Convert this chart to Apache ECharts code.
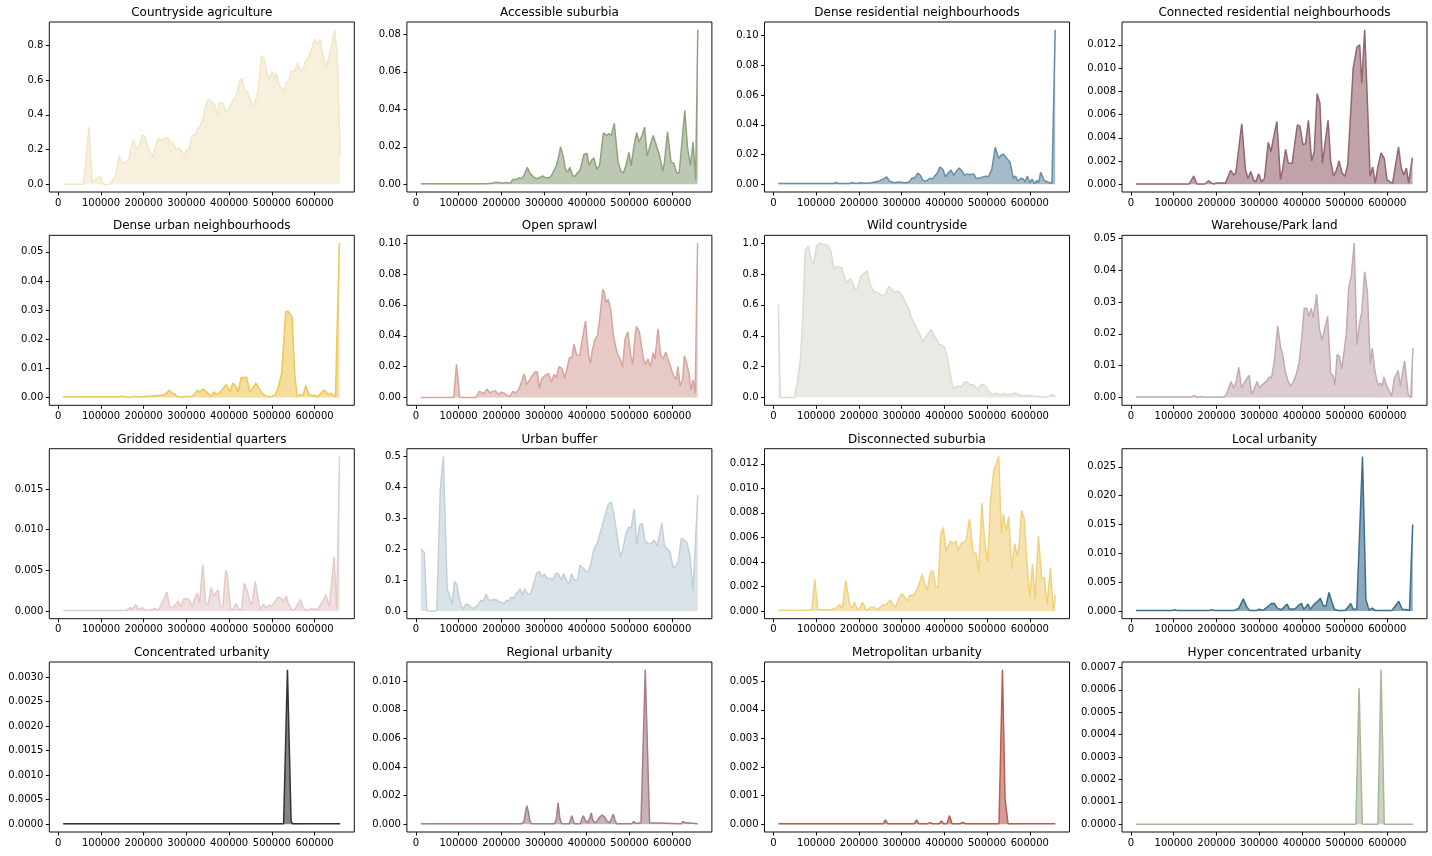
<!DOCTYPE html>
<html><head><meta charset="utf-8">
<script src="https://cdn.jsdelivr.net/npm/echarts@6/dist/echarts.min.js"></script>
<style>html,body{margin:0;padding:0;background:#fff}#c{width:1432px;height:856px}</style>
</head><body><div id="c"></div>
<script>
const titles = ["Countryside agriculture","Accessible suburbia","Dense residential neighbourhoods","Connected residential neighbourhoods",
"Dense urban neighbourhoods","Open sprawl","Wild countryside","Warehouse/Park land",
"Gridded residential quarters","Urban buffer","Disconnected suburbia","Local urbanity",
"Concentrated urbanity","Regional urbanity","Metropolitan urbanity","Hyper concentrated urbanity"];
const colors = ["#f2e6c7","#8fa37e","#678ea6","#94666e","#efc758","#d7a59f","#d7ded1","#c3abaf",
"#e4cbc8","#c2d0d9","#f0d17d","#3b6e8c","#333432","#a47f85","#bc5b4f","#a7b799"];
const xTicks = [0,100000,200000,300000,400000,500000,600000];

const countrysideAgriculture = [[12000,0],[58100,0],[63200,0.1],[71800,0.33],[79400,0.01],[84500,0.02],[93100,0.04],[98600,0.045],[104700,0],[119900,0],[122000,0.01],[134600,0.05],[142200,0.165],[148300,0.12],[159400,0.13],[164500,0.14],[169600,0.2],[176300,0.255],[183800,0.2],[188800,0.22],[196500,0.285],[203000,0.275],[211100,0.2],[222300,0.16],[228400,0.23],[234900,0.265],[241500,0.25],[247600,0.265],[256300,0.27],[262800,0.24],[268900,0.24],[275500,0.2],[283100,0.21],[289200,0.19],[294700,0.165],[301300,0.2],[307400,0.21],[313500,0.28],[320600,0.285],[326600,0.32],[332700,0.34],[338800,0.38],[345900,0.46],[352000,0.49],[363100,0.47],[368200,0.44],[372200,0.4],[377800,0.47],[385400,0.47],[391500,0.42],[396600,0.42],[404700,0.46],[410700,0.49],[417300,0.51],[423900,0.59],[430000,0.61],[436600,0.54],[443200,0.53],[450300,0.48],[456300,0.45],[461400,0.48],[468500,0.55],[475600,0.74],[482400,0.72],[487800,0.65],[492800,0.6],[501600,0.65],[507000,0.6],[510000,0.64],[516100,0.58],[520200,0.56],[527300,0.53],[532300,0.58],[539900,0.6],[545500,0.65],[553600,0.65],[560200,0.7],[564300,0.67],[568800,0.65],[573900,0.67],[580600,0.72],[586000,0.73],[593100,0.78],[600800,0.835],[605300,0.81],[613400,0.835],[616400,0.78],[623200,0.71],[627600,0.68],[633700,0.73],[640300,0.8],[646800,0.89],[652900,0.76],[660000,0.17]];

const accessibleSuburbia = [[11500,0.0003],[163500,0.0003],[178700,0.0005],[183800,0.001],[193900,0.001],[205000,0.0005],[210100,0.001],[221300,0.0005],[226300,0.0025],[234400,0.0025],[242500,0.0035],[247600,0.003],[253700,0.005],[260800,0.009],[266900,0.006],[275000,0.004],[282100,0.003],[290200,0.0035],[296200,0.0045],[303300,0.0035],[312500,0.0035],[318500,0.005],[328700,0.01],[333700,0.014],[338800,0.02],[344900,0.015],[350000,0.008],[355000,0.0065],[360600,0.009],[366200,0.005],[371200,0.004],[378300,0.006],[384400,0.0075],[393500,0.016],[400600,0.0165],[405700,0.01],[411800,0.013],[416800,0.014],[423000,0.008],[430000,0.01],[439100,0.0275],[446200,0.026],[451300,0.027],[457400,0.026],[464500,0.0325],[473200,0.012],[479700,0.007],[485700,0.006],[491800,0.01],[498900,0.017],[504000,0.01],[512100,0.0225],[517200,0.0275],[522200,0.0225],[529300,0.026],[535400,0.0305],[541500,0.015],[547500,0.02],[555600,0.026],[563800,0.02],[569800,0.016],[578000,0.007],[582000,0.012],[589100,0.028],[597200,0.012],[604300,0.011],[610400,0.006],[616400,0.006],[629600,0.0395],[635700,0.02],[642800,0.01],[648900,0.0225],[655000,0.0025],[660000,0.0825]];

const denseResidential = [[11500,0.0005],[141200,0.0005],[146300,0.0012],[151300,0.0005],[178700,0.0005],[183800,0.001],[193900,0.0005],[204000,0.001],[214200,0.0007],[229400,0.001],[245600,0.002],[259800,0.004],[264800,0.005],[272000,0.002],[283100,0.001],[293200,0.0015],[309400,0.001],[317500,0.0015],[323600,0.004],[329700,0.004],[337800,0.0075],[343900,0.006],[348900,0.003],[355000,0.002],[361100,0.003],[366200,0.004],[372200,0.0035],[377300,0.0055],[382400,0.007],[389500,0.0115],[396600,0.01],[402600,0.005],[408700,0.0075],[415800,0.0095],[421900,0.006],[430000,0.0095],[435100,0.011],[441100,0.009],[447200,0.006],[453300,0.007],[459400,0.0065],[468500,0.007],[474600,0.004],[480700,0.004],[496900,0.0055],[503000,0.005],[511100,0.01],[519200,0.025],[527300,0.0175],[534400,0.02],[539400,0.02],[545500,0.0175],[553600,0.015],[561700,0.004],[566800,0.0055],[571900,0.002],[579000,0.004],[585000,0.0035],[589100,0.0015],[594200,0.0055],[600200,0.001],[605300,0.0035],[611400,0.0005],[616400,0.0025],[620500,0.001],[625600,0.008],[633700,0.0025],[641800,0.0015],[651900,0.0005],[659500,0.104]];

const connectedResidential = [[11500,0.00002],[136100,0.00002],[146900,0.0007],[154400,0.00002],[173600,0.00002],[181700,0.0003],[188800,0.0001],[193900,0.00002],[199000,0.0001],[221300,0.0001],[233400,0.0012],[240500,0.0008],[245600,0.001],[259300,0.0052],[267900,0.0013],[274000,0.0005],[280500,0.0011],[286600,0.0004],[292200,0.0002],[298800,0.0009],[305400,0.0002],[312500,0.0005],[321300,0.0036],[327700,0.0028],[334800,0.0042],[341600,0.0054],[350000,0.0004],[355000,0.0013],[362100,0.003],[368200,0.0018],[377300,0.0018],[383400,0.0035],[389500,0.0051],[395500,0.005],[402600,0.0034],[408700,0.0035],[415400,0.0055],[422900,0.002],[429000,0.0028],[435800,0.0078],[442200,0.007],[448200,0.0018],[454300,0.0035],[461400,0.0055],[467500,0.002],[474300,0.0007],[480700,0.0012],[487100,0.002],[493800,0.001],[500900,0.0007],[507500,0.0017],[520200,0.01],[528900,0.0118],[535400,0.012],[540400,0.0087],[547100,0.0133],[555600,0.005],[559700,0.0007],[565800,0.0015],[571900,0.0001],[578000,0.0015],[585500,0.0027],[593100,0.0022],[599200,0.0004],[606300,0.0002],[612400,0.0001],[626300,0.0032],[632700,0.0014],[638700,0.0008],[644800,0.0014],[649900,0.0001],[659000,0.0023]];

const denseUrban = [[11500,0.0003],[143200,0.0003],[151300,0.0005],[158400,0.0002],[175700,0.0002],[181700,0.0005],[188800,0.0002],[217200,0.0005],[240500,0.0008],[250600,0.0011],[259800,0.0025],[267900,0.0015],[281000,0.0002],[291200,0.0002],[302300,0.0005],[310400,0.0003],[318500,0.001],[325600,0.0025],[331700,0.0018],[338800,0.003],[344900,0.0022],[354000,0.001],[358100,0.0003],[364100,0.002],[370200,0.001],[376300,0.0015],[387400,0.0035],[393500,0.0045],[401600,0.002],[408700,0.005],[414800,0.004],[420900,0.002],[428000,0.0068],[441100,0.007],[448200,0.002],[454300,0.003],[462400,0.005],[470500,0.003],[479600,0.0012],[485700,0.0005],[492800,0.0003],[499900,0.0005],[507000,0.0008],[514100,0.003],[523200,0.0085],[532300,0.0295],[538900,0.0295],[547500,0.0275],[553600,0.008],[559200,0.0005],[566800,0.001],[572900,0.0007],[579500,0.0042],[586000,0.0012],[592100,0.0007],[601200,0.0007],[607300,0.0003],[617500,0.002],[624600,0.0025],[630600,0.001],[637700,0.0015],[648900,0.0002],[658000,0.053]];

const openSprawl = [[11500,0],[88500,0],[95200,0.0215],[102700,0],[140200,0],[148300,0.004],[153400,0.0035],[159400,0.0025],[166500,0.0055],[173600,0.003],[179700,0.004],[185800,0.0045],[192900,0.002],[199800,0.0035],[206100,0.003],[214200,0.0012],[220200,0.0008],[227300,0.004],[233400,0.003],[240500,0.005],[248600,0.011],[253700,0.0155],[258800,0.0085],[265800,0.011],[270900,0.0135],[278700,0.0165],[284100,0.0165],[289200,0.006],[295200,0.0125],[303300,0.0145],[310400,0.0155],[317500,0.01],[323600,0.015],[328700,0.013],[335200,0.02],[341800,0.019],[347900,0.0125],[352900,0.0175],[359800,0.026],[365200,0.0255],[370200,0.0345],[376300,0.0275],[383400,0.027],[389500,0.0375],[397100,0.0495],[403700,0.0285],[408700,0.022],[412800,0.03],[418900,0.0375],[425000,0.04],[430000,0.05],[437600,0.07],[441200,0.068],[445200,0.0615],[450300,0.0635],[456400,0.0565],[462400,0.04],[467500,0.033],[473600,0.027],[478600,0.025],[483700,0.0195],[489800,0.038],[496400,0.0425],[503000,0.027],[508000,0.0215],[513100,0.04],[516500,0.046],[523200,0.0425],[528300,0.033],[532300,0.0255],[537400,0.0215],[543500,0.025],[549600,0.02],[555600,0.029],[559700,0.025],[566800,0.0445],[572900,0.0275],[579000,0.025],[585000,0.0295],[590100,0.025],[596200,0.02],[603300,0.014],[609400,0.012],[613400,0.02],[618500,0.0075],[624600,0.0115],[628600,0.027],[633700,0.0225],[639800,0.015],[643800,0.005],[648900,0.0115],[653900,0.003],[659500,0.1]];

const wildCountryside = [[11500,0.6],[15600,0],[49600,0],[56100,0.1],[63200,0.25],[68300,0.5],[74300,0.95],[81400,0.98],[88500,0.89],[93600,0.86],[100700,0.98],[108800,1.0],[114900,0.99],[122600,0.99],[129100,0.98],[135100,0.94],[141800,0.83],[148300,0.85],[154400,0.84],[159400,0.84],[166500,0.78],[172600,0.74],[179400,0.77],[184800,0.75],[190900,0.7],[197000,0.71],[204000,0.78],[210100,0.8],[219200,0.82],[225300,0.74],[231900,0.7],[238500,0.68],[244600,0.68],[251300,0.66],[259800,0.66],[263800,0.68],[270500,0.72],[277000,0.7],[283100,0.68],[290200,0.69],[296200,0.68],[305400,0.64],[311200,0.6],[316500,0.58],[322600,0.52],[329500,0.48],[336800,0.44],[343900,0.4],[350000,0.36],[356000,0.39],[363100,0.42],[369200,0.44],[375300,0.4],[382400,0.38],[388500,0.34],[394500,0.34],[401600,0.32],[407700,0.25],[413800,0.15],[420600,0.06],[427000,0.07],[433000,0.075],[439100,0.07],[447200,0.1],[453300,0.1],[460400,0.08],[467500,0.085],[473600,0.07],[478600,0.05],[484700,0.08],[490800,0.085],[497900,0.07],[503100,0.045],[510700,0.02],[517200,0.02],[523200,0.03],[529300,0.015],[538400,0.025],[544500,0.02],[554600,0.02],[565400,0.03],[572900,0.02],[581000,0.01],[594200,0.015],[604300,0.01],[626600,0.005],[637200,0],[654000,0.02],[660000,0.005]];

const warehouseParkLand = [[11500,0.0002],[141200,0.0002],[148300,0.0006],[155400,0.0001],[163500,0.0003],[173600,0.0001],[193900,0.0002],[218200,0.0002],[223300,0.001],[234000,0.005],[240500,0.003],[246600,0.005],[252300,0.0095],[258800,0.003],[264800,0.0045],[268900,0.004],[277000,0.007],[282100,0.001],[288100,0.0025],[295200,0.005],[301300,0.003],[307400,0.004],[319500,0.0055],[323600,0.0065],[328700,0.006],[335800,0.0115],[343500,0.0225],[350000,0.016],[355000,0.0135],[361600,0.008],[368200,0.005],[374300,0.0035],[380300,0.005],[387400,0.0075],[393800,0.011],[399600,0.0185],[405700,0.028],[411800,0.028],[416800,0.0255],[421700,0.028],[427000,0.025],[434600,0.0325],[441100,0.0215],[447200,0.018],[453300,0.0215],[460300,0.0255],[467500,0.0075],[472600,0.007],[477600,0.004],[482700,0.0135],[487800,0.013],[493800,0.009],[504000,0.02],[509700,0.0345],[516100,0.0385],[522500,0.0485],[528900,0.0165],[535400,0.0235],[540400,0.027],[547100,0.0395],[553600,0.033],[560000,0.0105],[564800,0.0155],[570800,0.0085],[578000,0.004],[584000,0.0045],[588100,0.0035],[592100,0.0065],[599200,0.0035],[610400,0.0005],[616400,0.006],[625600,0.0085],[630600,0.0035],[640500,0.0115],[648900,0.001],[655000,0.0],[660000,0.0155]];

const griddedResidential = [[11500,0.00005],[142200,0.00005],[144200,0.0001],[158400,0.0001],[168600,0.0004],[173600,0.0002],[181700,0.0008],[187800,0.0001],[195500,0.0004],[204000,0.0001],[217200,0.0001],[225300,0.0003],[232400,0.0001],[237500,0.0004],[254200,0.0023],[260800,0.0005],[269900,0.0005],[274000,0.0004],[280800,0.0012],[287100,0.0005],[293600,0.0015],[302300,0.0015],[307400,0.0013],[313500,0.0005],[319500,0.0015],[325600,0.0022],[330700,0.001],[338400,0.0057],[344900,0.001],[351000,0.0007],[357600,0.0029],[364100,0.0018],[369200,0.0023],[374300,0.0026],[379300,0.0005],[385400,0.0005],[391800,0.005],[395500,0.0045],[403400,0.0002],[409700,0.0002],[416200,0.0009],[422900,0.0002],[429000,0.0001],[435500,0.0034],[442200,0.0025],[448200,0.0012],[453300,0.0008],[461100,0.0036],[467500,0.0015],[472600,0.0002],[480300,0.0008],[486700,0.0004],[492800,0.0007],[498900,0.0006],[508000,0.0012],[514400,0.0017],[521200,0.0016],[527300,0.0012],[533700,0.0018],[539400,0.0008],[547500,0.0001],[553600,0.0002],[566700,0.0014],[572900,0.0005],[579000,0.0001],[586100,0.0001],[592100,0.0003],[601200,0.0002],[607300,0.0002],[619500,0.0012],[626400,0.002],[634700,0.0005],[638700,0.0005],[645600,0.0067],[651900,0.0002],[658400,0.019]];

const urbanBuffer = [[11500,0.2],[19600,0.19],[25700,0],[49000,0],[57100,0.39],[64200,0.5],[73300,0.07],[79400,0.05],[84500,0.02],[90500,0.095],[95600,0.088],[101700,0.04],[105700,0.02],[110800,0.005],[116900,0.022],[123000,0.02],[130100,0.01],[138200,0.01],[145300,0.02],[152400,0.035],[158400,0.032],[164500,0.055],[170600,0.035],[176700,0.035],[183800,0.038],[189800,0.035],[195900,0.028],[202000,0.028],[207100,0.022],[212100,0.035],[217200,0.03],[223300,0.045],[228400,0.04],[234400,0.055],[244600,0.072],[249600,0.05],[254700,0.072],[260800,0.055],[267900,0.055],[273000,0.075],[282100,0.12],[289200,0.128],[295200,0.11],[301300,0.12],[307400,0.105],[314500,0.105],[320600,0.1],[327700,0.123],[333700,0.12],[339800,0.1],[345900,0.12],[352000,0.1],[358100,0.085],[364100,0.12],[370200,0.1],[378300,0.1],[384400,0.148],[390500,0.14],[397600,0.13],[403700,0.125],[409700,0.15],[416800,0.2],[424900,0.22],[433000,0.26],[441100,0.3],[450300,0.345],[457400,0.352],[462400,0.32],[469500,0.26],[478600,0.175],[484700,0.2],[491800,0.25],[497900,0.272],[504000,0.268],[511000,0.33],[517200,0.215],[524200,0.278],[530300,0.283],[536400,0.225],[545500,0.217],[551600,0.22],[557700,0.23],[564800,0.21],[570800,0.25],[575900,0.285],[582000,0.21],[589100,0.2],[595200,0.19],[602300,0.14],[608300,0.145],[614400,0.16],[621500,0.235],[627600,0.23],[634700,0.22],[640800,0.185],[648900,0.065],[660000,0.375]];

const disconnectedSuburbia = [[12000,0.00005],[90000,0.00005],[96600,0.0026],[103700,0.0001],[136100,0.0001],[144200,0.0002],[155400,0.0005],[161500,0.0002],[169200,0.0025],[178700,0.0005],[183800,0.0002],[189500,0.0007],[197000,0.0001],[203000,0.0003],[208800,0.0007],[216200,0.0001],[221300,0.0001],[228000,0.0003],[235400,0.0003],[242500,0.0001],[249600,0.0003],[255700,0.0005],[263800,0.0005],[273000,0.0009],[280000,0.0005],[286100,0.0003],[293200,0.001],[300300,0.0014],[306400,0.0012],[312500,0.0008],[319500,0.0013],[325600,0.0012],[332700,0.0015],[338800,0.002],[343900,0.0025],[347900,0.003],[354000,0.0022],[360100,0.0017],[367200,0.0031],[373300,0.0033],[379300,0.002],[385400,0.0019],[391500,0.0063],[397600,0.0068],[403700,0.0049],[408700,0.0053],[414800,0.0057],[420900,0.0055],[427000,0.0057],[433000,0.0049],[439100,0.0055],[446200,0.0056],[451300,0.0058],[458900,0.0075],[467500,0.0047],[474600,0.0047],[480300,0.0031],[487800,0.0088],[494800,0.0055],[501600,0.004],[508000,0.009],[515600,0.0114],[520200,0.0115],[527300,0.0126],[533400,0.0063],[538400,0.0079],[544500,0.0065],[550600,0.0077],[557700,0.0034],[564800,0.0055],[569800,0.0045],[574900,0.0052],[580800,0.0082],[587100,0.0075],[593100,0.004],[600000,0.0011],[606300,0.0038],[612400,0.001],[620300,0.0061],[627600,0.0027],[633700,0.0027],[640800,0.0005],[648200,0.0035],[655000,0.0],[660000,0.0013]];

const localUrbanity = [[11500,0.0001],[97600,0.0001],[102700,0.0002],[107800,0.0001],[183800,0.0001],[188800,0.0002],[193900,0.0001],[242500,0.0001],[252700,0.0005],[263000,0.0021],[270400,0.0008],[277500,0.0001],[294500,0.0001],[300500,0.0003],[309500,0.0001],[319500,0.0007],[328500,0.0013],[335500,0.0013],[342500,0.0005],[352500,0.0002],[365500,0.0012],[371500,0.0003],[384500,0.0004],[392500,0.001],[399500,0.0013],[404500,0.0003],[409500,0.0007],[414500,0.0012],[419500,0.0003],[429500,0.0012],[437500,0.0017],[443500,0.0022],[449500,0.001],[456500,0.0008],[463500,0.0032],[470500,0.0015],[476500,0.0003],[484500,0.0001],[501500,0.0001],[509500,0.0008],[514500,0.0013],[520500,0.0003],[528500,0.0003],[542000,0.0268],[550000,0.002],[557000,0.0002],[565000,0.0005],[571000,0.0001],[611000,0.0001],[619000,0.0009],[627000,0.0017],[635000,0.0003],[646000,0.0002],[652000,0.0001],[659500,0.015]];

const concentratedUrbanity = [[11500,0.00001],[527500,0.00001],[536500,0.00315],[545000,0.00006],[549000,0.00001],[660000,0.00001]];

const regionalUrbanity = [[11500,0.00003],[248000,0.00003],[253000,0.0002],[257000,0.0009],[260000,0.0013],[263000,0.0009],[267000,0.0002],[271000,0.00003],[325000,0.00003],[329000,0.0004],[333000,0.0015],[337000,0.0004],[341000,0.00003],[359000,0.00003],[362000,0.0003],[365000,0.0006],[368000,0.0003],[371000,0.00003],[385000,0.00003],[389000,0.0004],[392000,0.0006],[396000,0.0003],[402000,0.0001],[407000,0.0004],[410500,0.0008],[414000,0.0003],[419000,0.0001],[424000,0.0002],[430000,0.0005],[436000,0.00065],[442000,0.0005],[448000,0.0002],[453000,0.0001],[458000,0.0004],[462000,0.0007],[466000,0.0003],[470000,0.00003],[505000,0.00003],[510000,0.0002],[515000,0.00005],[527000,0.0001],[537000,0.0108],[547000,0.0001],[551000,0.00003],[621000,0.00003],[625000,0.0002],[628000,0.0003],[632000,0.0001],[636000,0.00003],[660000,0.00003]];

const metropolitanUrbanity = [[11500,0.00002],[257000,0.00002],[262000,0.00015],[267000,0.00002],[330000,0.00002],[335000,0.00015],[340000,0.00002],[362000,0.00002],[367000,0.00006],[372000,0.00002],[388000,0.00002],[393000,0.00012],[398000,0.00002],[406000,0.00002],[412000,0.0003],[418000,0.00002],[437000,0.00002],[443000,0.00006],[450000,0.00002],[528000,0.00002],[536000,0.0054],[542000,0.0009],[549000,0.00002],[660000,0.00002]];

const hyperConcentratedUrbanity = [[11500,0],[526500,0],[534000,0.00061],[541500,0],[578000,0],[585500,0.00069],[593000,0],[660000,0]];

const yTicks1 = [0,0.2,0.4,0.6,0.8];
const yTicks2 = [0,0.02,0.04,0.06,0.08];
const yTicks3 = [0,0.02,0.04,0.06,0.08,0.10];
const yTicks4 = [0,0.002,0.004,0.006,0.008,0.010,0.012];
const yTicks5 = [0,0.01,0.02,0.03,0.04,0.05];
const yTicks6 = [0,0.02,0.04,0.06,0.08,0.10];
const yTicks7 = [0,0.2,0.4,0.6,0.8,1.0];
const yTicks8 = [0,0.01,0.02,0.03,0.04,0.05];
const yTicks9 = [0,0.005,0.010,0.015];
const yTicks10 = [0,0.1,0.2,0.3,0.4,0.5];
const yTicks11 = [0,0.002,0.004,0.006,0.008,0.010,0.012];
const yTicks12 = [0,0.005,0.010,0.015,0.020,0.025];
const yTicks13 = [0,0.0005,0.0010,0.0015,0.0020,0.0025,0.0030];
const yTicks14 = [0,0.002,0.004,0.006,0.008,0.010];
const yTicks15 = [0,0.001,0.002,0.003,0.004,0.005];
const yTicks16 = [0,0.0001,0.0002,0.0003,0.0004,0.0005,0.0006,0.0007];
const yDecimals = [1,2,2,3,2,2,1,2,3,1,3,3,4,3,3,4];

const allSeries = [countrysideAgriculture,accessibleSuburbia,denseResidential,connectedResidential,
denseUrban,openSprawl,wildCountryside,warehouseParkLand,griddedResidential,urbanBuffer,
disconnectedSuburbia,localUrbanity,concentratedUrbanity,regionalUrbanity,metropolitanUrbanity,hyperConcentratedUrbanity];
const allYTicks = [yTicks1,yTicks2,yTicks3,yTicks4,yTicks5,yTicks6,yTicks7,yTicks8,yTicks9,yTicks10,yTicks11,yTicks12,yTicks13,yTicks14,yTicks15,yTicks16];

const colLeft = [49.3, 406.9, 764.5, 1122];
const rowTop = [22, 235.3, 448.7, 662];
const W = 305, H = 170;
const FONT = 'DejaVu Sans';

const grid = [], xAxis = [], yAxis = [], series = [], title = [];
for (let i = 0; i < 16; i++) {
  const r = Math.floor(i / 4), c = i % 4;
  const left = colLeft[c], top = rowTop[r];
  grid.push({left: left, top: top, width: W, height: H, show: true, borderColor: '#111', borderWidth: 1, backgroundColor: 'transparent', containLabel: false});
  const ymax = Math.max.apply(null, allSeries[i].map(p => p[1]));
  const dec = yDecimals[i];
  xAxis.push({type: 'value', gridIndex: i, min: -21000, max: 693000,
    axisLine: {show: false, onZero: false},
    splitLine: {show: false},
    axisTick: {show: true, length: 3.5, lineStyle: {color: '#111', width: 1}, customValues: xTicks},
    axisLabel: {show: true, customValues: xTicks, fontSize: 10, fontFamily: FONT, color: '#000', margin: 6, formatter: v => String(v)}
  });
  yAxis.push({type: 'value', gridIndex: i, min: -0.05 * ymax, max: 1.05 * ymax,
    axisLine: {show: false, onZero: false},
    splitLine: {show: false},
    axisTick: {show: true, length: 3.5, lineStyle: {color: '#111', width: 1}, customValues: allYTicks[i]},
    axisLabel: {show: true, customValues: allYTicks[i], fontSize: 10, fontFamily: FONT, color: '#000', margin: 6, formatter: v => Number(v).toFixed(dec)}
  });
  series.push({type: 'line', xAxisIndex: i, yAxisIndex: i, data: allSeries[i], showSymbol: false, symbol: 'none',
    lineStyle: {color: colors[i], width: 1.5}, areaStyle: {color: colors[i], opacity: 0.6, origin: 0},
    itemStyle: {color: colors[i]}, silent: true, animation: false});
  title.push({text: titles[i], left: left + W / 2, top: top - 15, textAlign: 'center', padding: 0,
    textStyle: {fontSize: 12, fontWeight: 'normal', fontFamily: FONT, color: '#000'}});
}

const chart = echarts.init(document.getElementById('c'), null, {renderer: 'canvas'});
chart.setOption({animation: false, backgroundColor: '#fff', title, grid, xAxis, yAxis, series});
</script>
</body></html>
